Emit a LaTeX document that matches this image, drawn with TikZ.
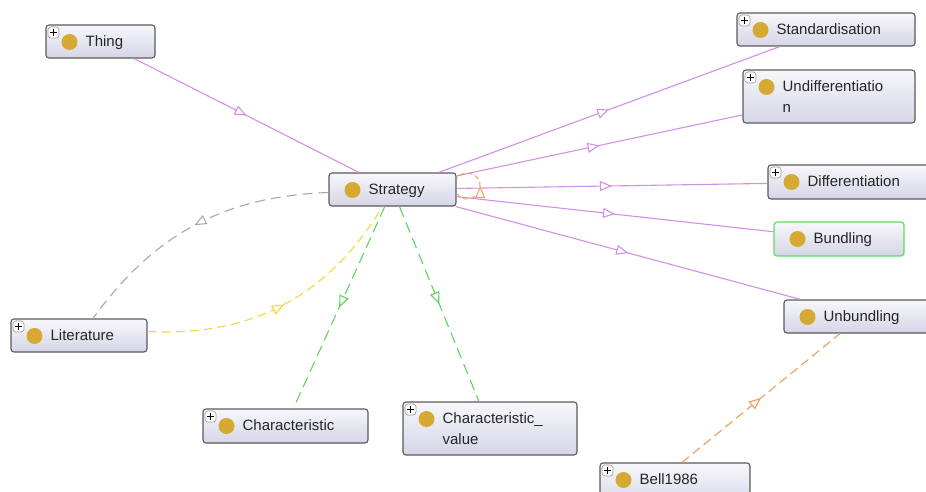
\documentclass[tikz,border=0pt]{standalone}
\usepackage{fontspec}
\setmainfont{Liberation Sans}
\usetikzlibrary{arrows.meta, decorations.markings}

\definecolor{dotgold}{HTML}{D6A935}
\definecolor{boxline}{HTML}{5A5A5A}
\definecolor{boxtop}{HTML}{F7F7FB}
\definecolor{boxbot}{HTML}{D5D5E7}
\definecolor{isapurple}{HTML}{D490E6}
\definecolor{litgray}{HTML}{A8A8A8}
\definecolor{refyellow}{HTML}{F5D73A}
\definecolor{propgreen}{HTML}{5ED45E}
\definecolor{srcorange}{HTML}{EE9C5E}
\definecolor{selforange}{HTML}{E8A868}
\definecolor{selgreen}{HTML}{5CDC5C}

% gold class dot and the little expand box
\newcommand{\classdot}{\fill[dotgold] ([xshift=23.5pt,yshift=-17pt]path picture bounding box.north west) circle[radius=8pt];}
\newcommand{\plusbox}{%
  \draw[draw=gray!80, fill=white, line width=0.6pt] ([xshift=2pt,yshift=-2pt]path picture bounding box.north west) rectangle ++(11pt,-11pt);
  \draw[black, line width=1.2pt] ([xshift=4pt,yshift=-7.5pt]path picture bounding box.north west) -- ++(7pt,0pt);
  \draw[black, line width=1.2pt] ([xshift=7.5pt,yshift=-4pt]path picture bounding box.north west) -- ++(0pt,-7pt);}

\tikzset{
  cls/.style 2 args={draw=boxline, line width=1.1pt, rounded corners=3pt,
    top color=boxtop, bottom color=boxbot, minimum width=#1, minimum height=#2,
    inner sep=0pt, path picture={\classdot}},
  clsplus/.style 2 args={cls={#1}{#2}, path picture={\classdot\plusbox}},
  txt/.style={anchor=north west, xshift=40pt, yshift=-11pt, inner sep=0pt,
    align=left, text=black!85, font=\fontsize{15pt}{21pt}\selectfont},
  mid/.style={postaction=decorate, decoration={markings,
    mark=at position #1 with {\arrow{Triangle[fill=white, length=12pt, width=10pt]}}}},
  mid/.default=0.5,
  isa/.style={draw=isapurple, line width=1.1pt, mid},
  litref/.style={draw=litgray, line width=1.1pt, dash pattern=on 10pt off 6pt, mid},
  yelref/.style={draw=refyellow, line width=1.1pt, dash pattern=on 9pt off 5pt, mid},
  charref/.style={draw=propgreen, line width=1.1pt, dash pattern=on 11pt off 6pt, mid},
  srcref/.style={draw=srcorange, line width=1.1pt, dash pattern=on 9pt off 5pt, mid},
  selfref/.style={draw=selforange, line width=1.1pt, dash pattern=on 5pt off 3pt, mid},
}

\begin{document}
\begin{tikzpicture}[x=1pt, y=-1pt]

    \useasboundingbox (0,0) rectangle (926,492);
    \clip (0,0) rectangle (926,492);

    % Classes
    \node[clsplus={109pt}{33pt}, label={[txt]north west:Thing}] (thing) at (100.5,41.5) {};
    \node[cls={127pt}{33pt}, label={[txt]north west:Strategy}] (strategy) at (392.5,189.5) {};
    \node[clsplus={178pt}{33pt}, label={[txt]north west:Standardisation}] (standard) at (826,29.5) {};
    \node[clsplus={172pt}{53pt}, label={[txt]north west:{Undifferentiatio\\n}}] (undiff) at (829,96.5) {};
    \node[clsplus={172pt}{34pt}, label={[txt]north west:Differentiation}] (diff) at (854,182) {};
    \node[cls={130pt}{34pt}, draw=selgreen, label={[txt]north west:Bundling}] (bundling) at (839,239) {};
    \node[cls={160pt}{33pt}, label={[txt]north west:Unbundling}] (unbundling) at (864,316.5) {};
    \node[clsplus={136pt}{33pt}, label={[txt]north west:Literature}] (literature) at (79,335.5) {};
    \node[clsplus={165pt}{34pt}, label={[txt]north west:Characteristic}] (charac) at (285.5,426) {};
    \node[clsplus={174pt}{53pt}, label={[txt]north west:{Characteristic\_\\value}}] (charval) at (490,428.5) {};
    \node[clsplus={150pt}{47pt}, label={[txt]north west:Bell1986}] (bell) at (675,486.5) {};

    % Subclass links
    \draw[isa] (thing) -- (strategy);
    \draw[isa] (strategy) -- (standard);
    \draw[isa] (strategy) -- (undiff);
    \draw[isa] (strategy) -- (diff);
    \draw[isa] (strategy) -- (bundling);
    \draw[isa] (strategy) -- (unbundling);

    % Literature links
    \draw[litref] ([yshift=-3pt]strategy.west) to[bend right=26] ([xshift=14pt]literature.north);
    \draw[yelref] ([yshift=4pt]literature.east) to[bend right=31] ([xshift=-10pt]strategy.south);

    % Characteristic links
    \draw[charref] (strategy) -- (charac);
    \draw[charref] (strategy) -- (charval);

    % Source of unbundling
    \draw[srcref] ([xshift=7pt]bell.north) -- ([xshift=-24pt]unbundling.south);

    % Self link on Strategy
    \draw[selfref] ([yshift=-4pt]strategy.east) arc[start angle=-145, end angle=145, radius=13pt];

\end{tikzpicture}
\end{document}
